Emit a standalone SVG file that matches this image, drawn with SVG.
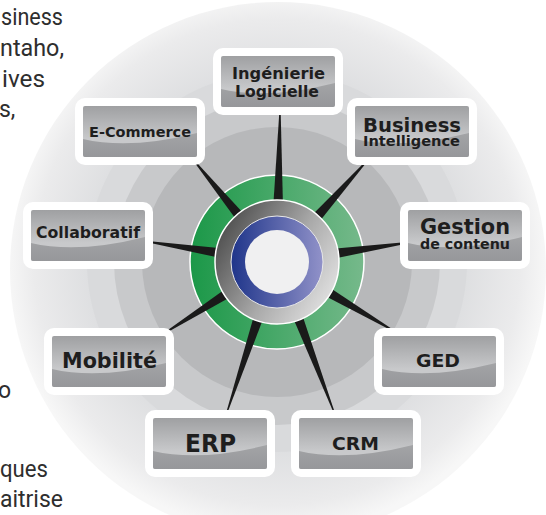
<svg xmlns="http://www.w3.org/2000/svg" xmlns:xlink="http://www.w3.org/1999/xlink" width="546" height="515" viewBox="0 0 546 515">
<style>
.lbl{font-family:"DejaVu Sans","Liberation Sans",sans-serif;font-weight:bold;fill:#1e1e1e;text-anchor:middle}
.side{font-family:Roboto,"Liberation Sans",sans-serif;font-size:23px;fill:#2e2e2e}
.spoke{fill:#1a1a1a}
</style>
<defs>
<radialGradient id="gDisk" cx="277" cy="262" r="270" gradientUnits="userSpaceOnUse">
<stop offset="0.68" stop-color="#dddee0"/>
<stop offset="0.9" stop-color="#ebebec"/>
<stop offset="1" stop-color="#f7f7f7"/>
</radialGradient>
<linearGradient id="gGreen" x1="0" y1="0" x2="1" y2="0">
<stop offset="0" stop-color="#1b9848"/>
<stop offset="1" stop-color="#76b98b"/>
</linearGradient>
<linearGradient id="gGray" x1="0" y1="0.2" x2="1" y2="0.8">
<stop offset="0" stop-color="#474747"/>
<stop offset="0.55" stop-color="#a9a9a9"/>
<stop offset="1" stop-color="#e6e6e6"/>
</linearGradient>
<linearGradient id="gBlue" x1="0" y1="0" x2="1" y2="0">
<stop offset="0" stop-color="#1f358a"/>
<stop offset="1" stop-color="#9192c9"/>
</linearGradient>
<linearGradient id="gBoxTop" x1="0" y1="0" x2="0" y2="1">
<stop offset="0" stop-color="#9fa0a2"/>
<stop offset="0.65" stop-color="#c8c9cb"/>
</linearGradient>
<linearGradient id="gBoxBot" x1="0" y1="0" x2="0" y2="1">
<stop offset="0" stop-color="#a3a4a6"/>
<stop offset="1" stop-color="#96979a"/>
</linearGradient>
<g id="box">
<rect x="0" y="0" width="130" height="67" rx="10" fill="#ffffff"/>
<rect x="8" y="8" width="114" height="51" rx="2" fill="url(#gBoxTop)"/>
<path d="M8,41 Q55,52 122,35 L122,57 Q122,59 120,59 L10,59 Q8,59 8,57 Z" fill="url(#gBoxBot)"/>
</g>
</defs>
<rect width="546" height="515" fill="#ffffff"/>
<g id="background">
<circle cx="278" cy="270" r="268" fill="url(#gDisk)"/>
<circle cx="277" cy="262" r="190" fill="#d9dadc"/>
<circle cx="277" cy="262" r="163" fill="#c8c9cb"/>
<circle cx="277" cy="262" r="135" fill="#b7b8ba"/>
<circle cx="277" cy="262" r="87" fill="url(#gGreen)" stroke="#ffffff" stroke-width="1.5"/>
</g>
<g id="side-text" class="side">
<text x="1" y="25" textLength="62" lengthAdjust="spacingAndGlyphs">siness</text>
<text x="0" y="56" textLength="64" lengthAdjust="spacingAndGlyphs">ntaho,</text>
<text x="2" y="87" textLength="43" lengthAdjust="spacingAndGlyphs">ives</text>
<text x="-1" y="117">s,</text>
<text x="-2" y="398">o</text>
<text x="0" y="477" textLength="48" lengthAdjust="spacingAndGlyphs">ques</text>
<text x="0" y="507" textLength="63" lengthAdjust="spacingAndGlyphs">aitrise</text>
</g>
<g id="connectors">
<polygon class="spoke" points="283,207.1 273.2,206.9 280.3,97"/>
<polygon class="spoke" points="317.3,224.3 309.7,217.5 375,151.8"/>
<polygon class="spoke" points="332.2,259 330.6,249 420.8,240.8"/>
<polygon class="spoke" points="321.9,294.3 326.9,285.7 404.9,337.6"/>
<polygon class="spoke" points="291.9,315.2 301.1,311.6 339.3,426"/>
<polygon class="spoke" points="254.9,312.6 264.3,315.8 222.3,426.2"/>
<polygon class="spoke" points="227.8,287.2 233.2,295.6 155.3,339"/>
<polygon class="spoke" points="223.5,248.5 221.9,258.3 135.2,239.7"/>
<polygon class="spoke" points="246.1,216.3 238.3,222.5 186.5,151.4"/>
</g>
<g id="hub">
<circle cx="277" cy="262" r="62" fill="url(#gGray)" stroke="#ffffff" stroke-width="1.5"/>
<circle cx="277" cy="262" r="46" fill="url(#gBlue)" stroke="#e8e8e8" stroke-width="1"/>
<circle cx="277" cy="262" r="32" fill="#f0f0f1"/>
</g>
<g id="n-ingenierie" transform="translate(213,48)">
<use xlink:href="#box"/>
<text class="lbl" x="65.5" y="31" font-size="15.5" textLength="93" lengthAdjust="spacingAndGlyphs">Ingénierie</text>
<text class="lbl" x="64" y="49" font-size="15.5" textLength="84" lengthAdjust="spacingAndGlyphs">Logicielle</text>
</g>
<g id="n-ecommerce" transform="translate(75,98)">
<use xlink:href="#box"/>
<text class="lbl" x="65" y="39" font-size="14.5" textLength="102" lengthAdjust="spacingAndGlyphs">E-Commerce</text>
</g>
<g id="n-bi" transform="translate(347,98)">
<use xlink:href="#box"/>
<text class="lbl" x="65" y="33.5" font-size="20" textLength="98" lengthAdjust="spacingAndGlyphs">Business</text>
<text class="lbl" x="64.5" y="47.5" font-size="13.5" textLength="97" lengthAdjust="spacingAndGlyphs">Intelligence</text>
</g>
<g id="n-collaboratif" transform="translate(23,202)">
<use xlink:href="#box"/>
<text class="lbl" x="65" y="36" font-size="15" textLength="104" lengthAdjust="spacingAndGlyphs">Collaboratif</text>
</g>
<g id="n-gestion" transform="translate(400,202)">
<use xlink:href="#box"/>
<text class="lbl" x="65" y="32" font-size="22" textLength="90" lengthAdjust="spacingAndGlyphs">Gestion</text>
<text class="lbl" x="65" y="46.5" font-size="14" textLength="90" lengthAdjust="spacingAndGlyphs">de contenu</text>
</g>
<g id="n-mobilite" transform="translate(44,328)">
<use xlink:href="#box"/>
<text class="lbl" x="65.5" y="39.5" font-size="21" textLength="95" lengthAdjust="spacingAndGlyphs">Mobilité</text>
</g>
<g id="n-ged" transform="translate(374,328)">
<use xlink:href="#box"/>
<text class="lbl" x="64" y="38.5" font-size="17.5" textLength="44" lengthAdjust="spacingAndGlyphs">GED</text>
</g>
<g id="n-erp" transform="translate(145,410)">
<use xlink:href="#box"/>
<text class="lbl" x="65.5" y="42" font-size="25" textLength="51" lengthAdjust="spacingAndGlyphs">ERP</text>
</g>
<g id="n-crm" transform="translate(291,410)">
<use xlink:href="#box"/>
<text class="lbl" x="64.5" y="39.5" font-size="18" textLength="47" lengthAdjust="spacingAndGlyphs">CRM</text>
</g>
</svg>
